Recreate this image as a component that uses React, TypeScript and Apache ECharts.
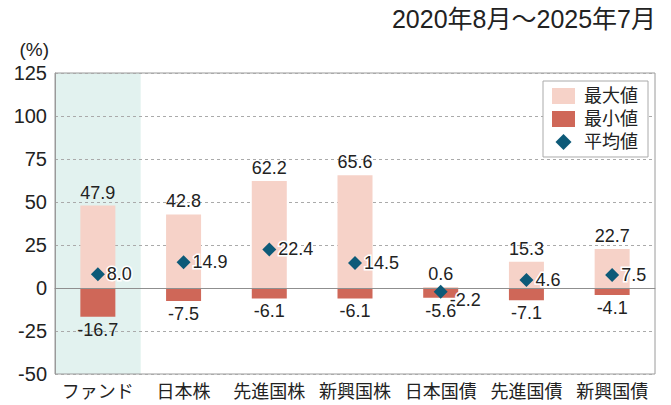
import React, { useEffect, useRef } from "react";
import * as echarts from "echarts";

const categories = ["ファンド", "日本株", "先進国株", "新興国株", "日本国債", "先進国債", "新興国債"];
const maxValues = [47.9, 42.8, 62.2, 65.6, 0.6, 15.3, 22.7];
const minValues = [-16.7, -7.5, -6.1, -6.1, -5.6, -7.1, -4.1];
const meanValues = [8.0, 14.9, 22.4, 14.5, -2.2, 4.6, 7.5];
const yMin = -50;
const yMax = 125;
const yInterval = 25;
const titleText = "2020年8月～2025年7月";
const unitText = "(%)";
const highlightIndex = 0;

const FONT = "'Liberation Sans', 'Noto Sans CJK JP', sans-serif";
const TXT = "#222";

export default function App() {
  const ref = useRef<HTMLDivElement>(null);
  useEffect(() => {
    document.body.style.margin = "0";
    const chart = echarts.init(ref.current!, null, { renderer: "svg" });
    chart.setOption({
      animation: false,
      textStyle: { fontFamily: FONT },
      grid: {
        left: 55,
        right: 16,
        top: 73,
        bottom: 31,
        show: true,
        borderColor: "#9a9a9a",
        borderWidth: 1,
        backgroundColor: "transparent",
      },
      graphic: [
        {
          type: "text",
          right: 15,
          top: 6,
          style: { text: titleText, fontSize: 25, fontFamily: FONT, fill: TXT },
        },
      ],
      legend: {
        orient: "vertical",
        right: 23,
        top: 81,
        padding: [6, 10, 6, 9],
        itemWidth: 23,
        itemHeight: 16,
        itemGap: 5,
        borderColor: "#aaa",
        borderWidth: 1,
        backgroundColor: "#fff",
        textStyle: { fontSize: 18, color: TXT, fontFamily: FONT, padding: [0, 0, 0, 4] },
        data: [
          { name: "最大値", icon: "rect" },
          { name: "最小値", icon: "rect" },
          { name: "平均値", icon: "path://M0,-1L1,0L0,1L-1,0Z" },
        ],
      },
      xAxis: {
        type: "category",
        data: categories,
        axisLine: { lineStyle: { color: "#9a9a9a" } },
        axisTick: { show: false },
        axisLabel: { color: TXT, fontSize: 18, margin: 9, fontFamily: FONT, interval: 0 },
      },
      yAxis: {
        type: "value",
        min: yMin,
        max: yMax,
        interval: yInterval,
        name: unitText,
        nameLocation: "end",
        nameGap: 14,
        nameTextStyle: {
          fontSize: 19,
          color: TXT,
          fontFamily: FONT,
          align: "right",
          verticalAlign: "bottom",
          padding: [0, 6, 0, 0],
        },
        axisLine: { show: true, lineStyle: { color: "#9a9a9a" } },
        axisTick: { show: false },
        axisLabel: { color: TXT, fontSize: 20, margin: 8, fontFamily: FONT },
        splitLine: { lineStyle: { color: "#aaa", type: [3, 3], width: 1 } },
      },
      series: [
        {
          type: "custom",
          silent: true,
          z: -1,
          data: [[highlightIndex, yMax]],
          encode: { x: 0, y: 1 },
          renderItem: (params: any, api: any) => {
            const top = api.coord([api.value(0), yMax]);
            const bot = api.coord([api.value(0), yMin]);
            const w = api.size([1, 0])[0];
            return {
              type: "rect",
              shape: { x: top[0] - w / 2, y: top[1], width: w, height: bot[1] - top[1] },
              style: { fill: "#e2f2ef" },
            };
          },
        },
        {
          name: "最大値",
          type: "bar",
          stack: "range",
          barWidth: 35,
          data: maxValues,
          itemStyle: { color: "#f6d2c8" },
          label: {
            show: true,
            position: "top",
            distance: 4,
            color: TXT,
            fontSize: 18,
            fontFamily: FONT,
            formatter: (p: any) => Number(p.value).toFixed(1),
          },
          markLine: {
            silent: true,
            symbol: ["none", "none"],
            label: { show: false },
            lineStyle: { color: "#8f8f8f", type: "solid", width: 1 },
            data: [{ yAxis: 0 }],
          },
        },
        {
          name: "最小値",
          type: "bar",
          stack: "range",
          barWidth: 35,
          data: minValues,
          itemStyle: { color: "#cf6758" },
          label: {
            show: true,
            position: "bottom",
            distance: 4,
            color: TXT,
            fontSize: 18,
            fontFamily: FONT,
            formatter: (p: any) => Number(p.value).toFixed(1),
          },
        },
        {
          name: "平均値",
          type: "scatter",
          symbol: "diamond",
          symbolSize: 14,
          z: 5,
          itemStyle: { color: "#0d5a78", opacity: 1 },
          data: meanValues.map((v) =>
            v < 0
              ? { value: v, label: { offset: [0, 8] } }
              : { value: v }
          ),
          label: {
            show: true,
            position: "right",
            distance: 2,
            color: TXT,
            opacity: 1,
            fontSize: 18,
            fontFamily: FONT,
            textBorderColor: "#fff",
            textBorderWidth: 3,
            formatter: (p: any) => Number(p.value).toFixed(1),
          },
        },
      ],
    });
    return () => chart.dispose();
  }, []);
  return <div ref={ref} style={{ width: 671, height: 405 }} />;
}
